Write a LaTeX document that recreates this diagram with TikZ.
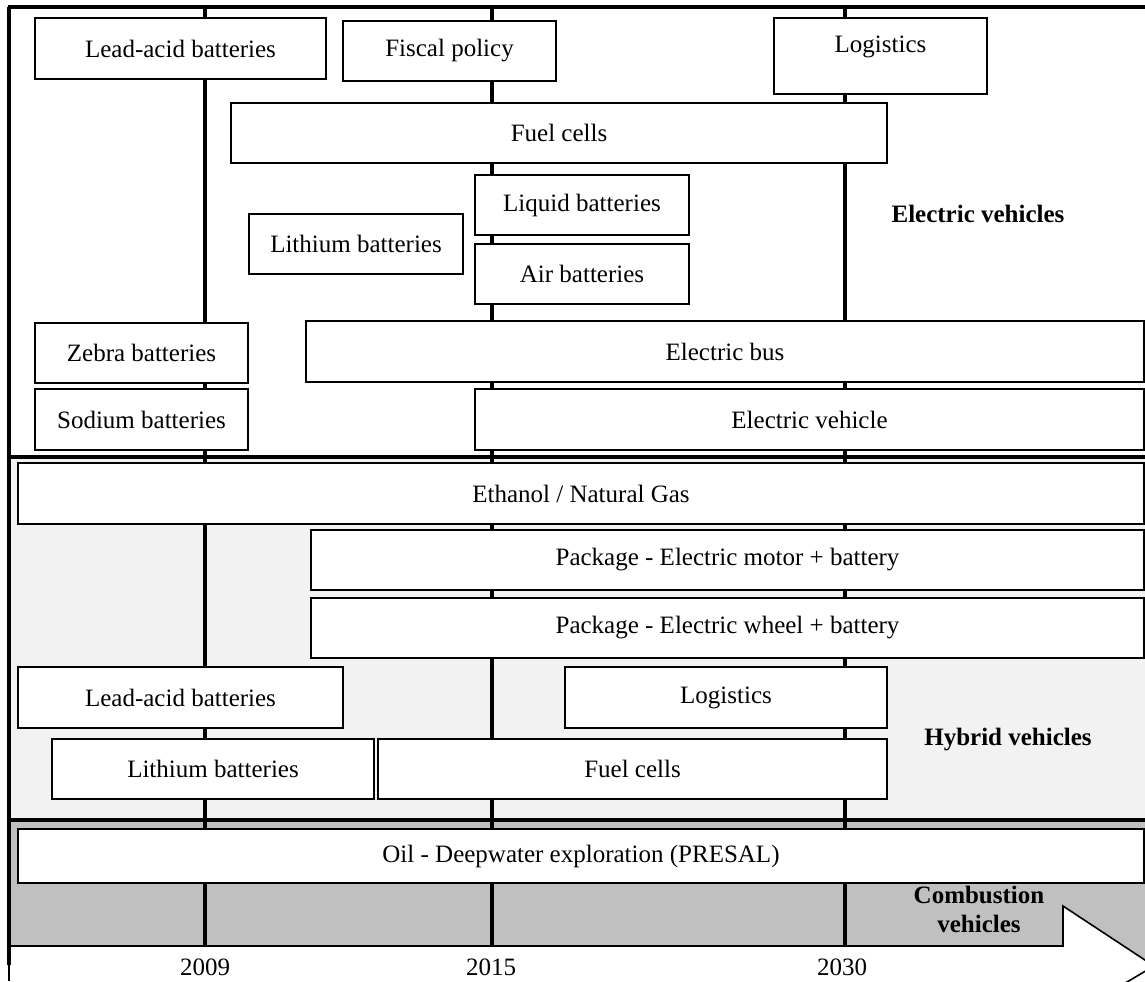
\documentclass[tikz,border=0pt]{standalone}
\usepackage{fontspec}
\setmainfont{Liberation Serif}
\definecolor{hybgray}{HTML}{F2F2F2}
\definecolor{combgray}{HTML}{C0C0C0}
\newcommand{\bx}[6]{\node[box, minimum width={(#4-#2)*0.5pt}, minimum height={(#5-#3)*0.5pt}] (#1) at ({(#2+#4)/2},{(#3+#5)/2}) {#6};}
\begin{document}
\begin{tikzpicture}[x=0.5pt,y=-0.5pt,
  box/.style={draw=black, fill=white, line width=0.75pt, inner sep=0pt, font=\fontsize{12.5}{15}\selectfont},
  txt/.style={inner sep=0pt, font=\fontsize{12.5}{15}\selectfont},
  lbl/.style={inner sep=0pt, align=center, font=\fontsize{12.5}{14.5}\selectfont\bfseries},
  yearline/.style={line width=1.7pt},
  frameline/.style={line width=1.7pt}]
\useasboundingbox (0,0) rectangle (1145,981);
\clip (0,0) rectangle (1145,981);
% backgrounds
\fill[white] (0,0) rectangle (1145,981);
\fill[hybgray] (9,457) rectangle (1160,820);
\fill[combgray] (9,820) -- (1160,820) -- (1154,966) -- (1063,906) -- (1063,946) -- (9,946) -- cycle;
% year lines
\draw[yearline] (205,7) -- (205,946);
\draw[yearline] (492,7) -- (492,946);
\draw[yearline] (845,7) -- (845,946);
% frame
\draw[line width=2pt] (8,7) -- (1160,7);
\draw[frameline] (9,457) -- (1160,457);
\draw[frameline] (9,820) -- (1160,820);
\draw[frameline] (9,7) -- (9,965);
\draw[line width=0.9pt] (9,965) -- (9,981);
\draw[line width=0.8pt] (9,946) -- (1063,946) -- (1063,906) -- (1154,966) -- (1105,995);
% electric section boxes
\bx{leadE}{35}{18}{326}{79}{Lead-acid batteries}
\bx{fiscal}{343}{21}{556}{81}{Fiscal policy}
\bx{logE}{774}{18}{987}{94}{}
\node[txt] (logEt) at (880.5,47) {Logistics};
\bx{fuelE}{231}{103}{887}{163}{Fuel cells}
\bx{liquid}{475}{175}{689}{235}{Liquid batteries}
\bx{lithE}{249}{214}{463}{274}{Lithium batteries}
\bx{air}{475}{244}{689}{304}{Air batteries}
\bx{zebra}{35}{323}{248}{383}{Zebra batteries}
\bx{bus}{306}{321}{1144}{382}{Electric bus}
\bx{sodium}{35}{389}{248}{450}{Sodium batteries}
\bx{ev}{475}{389}{1144}{450}{Electric vehicle}
% hybrid section boxes
\bx{ethanol}{18}{463}{1144}{524}{Ethanol / Natural Gas}
\bx{motor}{311}{530}{1144}{590}{Package - Electric motor + battery}
\bx{wheel}{311}{598}{1144}{658}{Package - Electric wheel + battery}
\bx{leadH}{18}{667}{343}{728}{Lead-acid batteries}
\bx{logH}{565}{667}{887}{728}{Logistics}
\bx{lithH}{52}{739}{374}{799}{Lithium batteries}
\bx{fuelH}{378}{739}{887}{799}{Fuel cells}
% combustion
\bx{oil}{18}{829}{1144}{883}{Oil - Deepwater exploration (PRESAL)}
% section labels
\node[lbl] (elab) at (978,214) {Electric vehicles};
\node[lbl] (hlab) at (1008,740) {Hybrid vehicles};
\node[lbl] (clab) at (979,909) {Combustion\\vehicles};
% years
\node[txt] (y2009) at (205,967) {2009};
\node[txt] (y2015) at (491,967) {2015};
\node[txt] (y2030) at (842,967) {2030};
\end{tikzpicture}
\end{document}
